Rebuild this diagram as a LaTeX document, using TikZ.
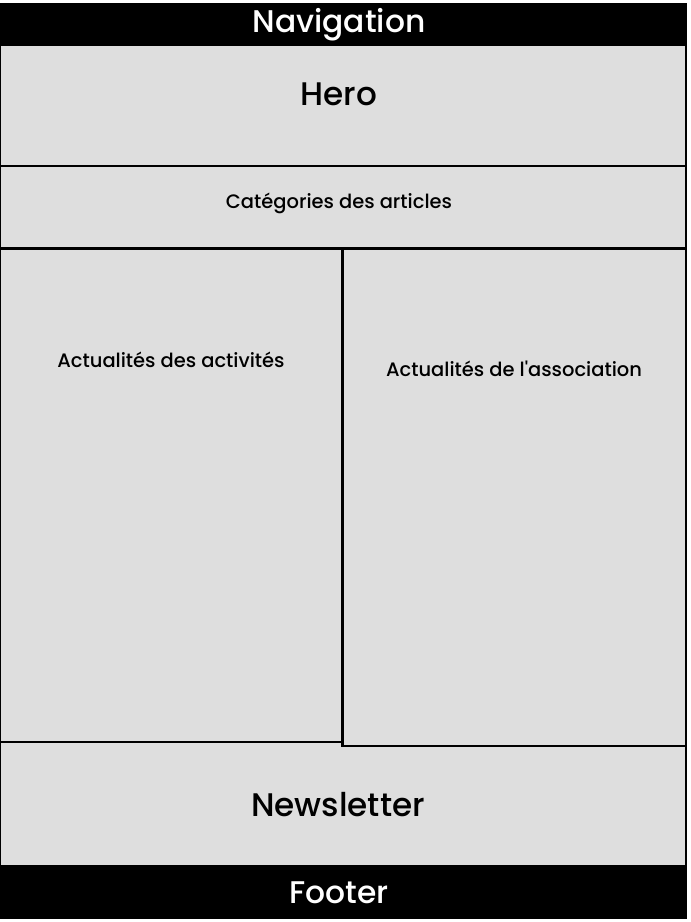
\documentclass[tikz,border=0pt]{standalone}
\usepackage{fontspec}
\setmainfont{Poppins}[UprightFont=* Medium]
\usetikzlibrary{positioning}
\definecolor{wfgray}{HTML}{DEDEDE}
\tikzstyle{bar} = [fill=black, draw=black, inner sep=0pt, minimum width=514.5pt]
\tikzstyle{bartext} = [text=white, font=\fontsize{23.5}{27}\selectfont]
\tikzstyle{zone} = [fill=wfgray, draw=black, line width=0.9pt, inner sep=0pt]
\tikzstyle{col} = [zone, line width=2pt, minimum width=257.25pt]
\tikzstyle{small} = [font=\fontsize{14.6}{17}\selectfont]
\tikzstyle{big} = [font=\fontsize{24.5}{28}\selectfont]

\begin{document}
\begin{tikzpicture}[x=0.75pt, y=-0.75pt]
    \useasboundingbox (0,0) rectangle (691,922);
    % header and footer bars
    \node[bar, minimum height=31.5pt] (nav) at (343,24) {};
    \node[bar, minimum height=39pt] (footer) at (343,892) {};
    \node[bartext] (navtext) at (339,25) {Navigation};
    \node[bartext] (foottext) at (339,893) {Footer};
    % main zones
    \node[zone, minimum width=514.5pt, minimum height=90.75pt] (hero) at (343,105.5) {};
    \node[zone, minimum width=514.5pt, minimum height=61.5pt] (cats) at (343,207) {};
    \node[zone, minimum width=514.5pt, minimum height=93pt] (news) at (343,804) {};
    % two columns
    \node[col, minimum height=370.5pt] (left) at (171.5,495) {};
    \node[col, line width=1.4pt, minimum height=373.5pt] (right) at (514.5,497) {};
    \draw[line width=2pt] (cats.south west) -- (cats.south east);
    \draw[line width=2pt] (right.north west) -- (right.south west);
    % labels
    \node[big] (herotext) at (339,94) {Hero};
    \node[small] (catstext) at (339,203) {Catégories des articles};
    \node[big] (newstext) at (338,805) {Newsletter};
    \node[small] (actlabel) at (171,360) {Actualités des activités};
    \node[small] (assolabel) at (514,369) {Actualités de l\textquotesingle association};
\end{tikzpicture}
\end{document}
